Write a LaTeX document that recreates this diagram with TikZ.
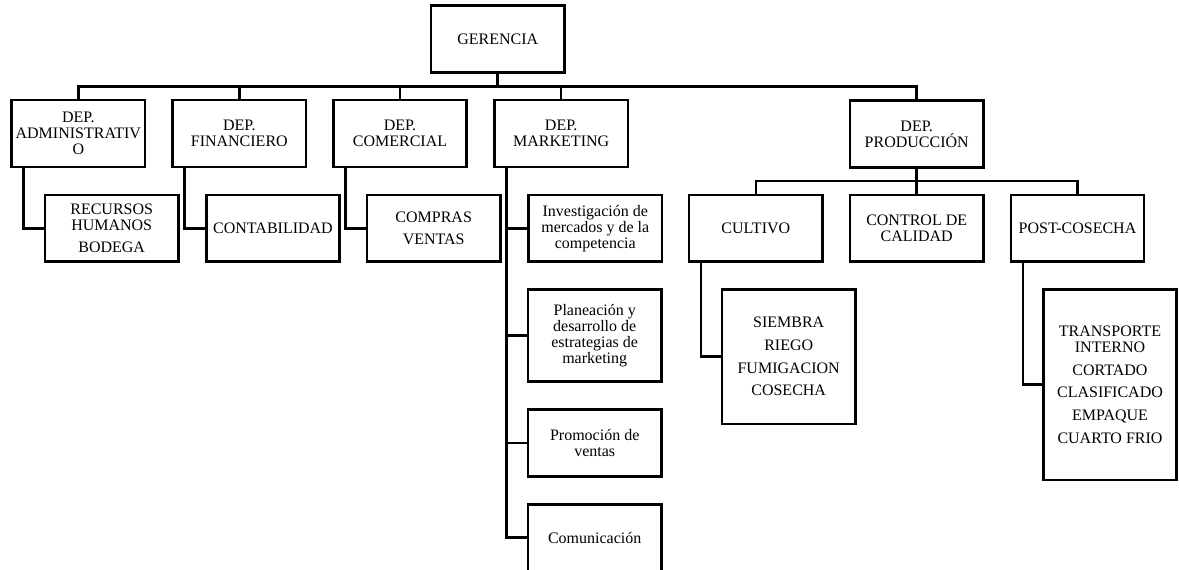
\documentclass[tikz,border=0pt]{standalone}
\usepackage{fontspec}
\setmainfont{Liberation Serif}
\usepackage{tikz}

\begin{document}
\begin{tikzpicture}[x=0.75pt,y=-0.75pt,line join=miter,line width=1.9pt,
	caja/.style={draw,line width=1.9pt,minimum width=100pt,minimum height=50pt,inner sep=0pt,align=center,font=\fontsize{12}{12}\selectfont}]
				\useasboundingbox (0,0) rectangle (1179,569);
				% nivel 1
				\node[caja] (ger) at (497.7,39) {GERENCIA};
				% departamentos
				\node[caja] (adm) at (78.3,133.5) {DEP.\\ADMINISTRATIV\\O};
				\node[caja] (fin) at (239.3,133.5) {DEP.\\FINANCIERO};
				\node[caja] (com) at (400,133.5) {DEP.\\COMERCIAL};
				\node[caja] (mkt) at (561.2,133.5) {DEP.\\MARKETING};
				\node[caja] (pro) at (916.7,134) {DEP.\\PRODUCCIÓN};
				% areas
				\node[caja] (rrhh) at (111.7,228.3) {RECURSOS\\HUMANOS\\[4.5pt]BODEGA};
				\node[caja] (cont) at (273,228.3) {CONTABILIDAD};
				\node[caja] (comp) at (433.7,228.3) {COMPRAS\\[5pt]VENTAS};
				\node[caja] (inv) at (595.3,228.3) {Investigación de\\mercados y de la\\competencia};
				\node[caja,minimum height=69pt] (plan) at (594.7,335.5) {Planeación y\\desarrollo de\\estrategias de\\marketing};
				\node[caja] (prom) at (594.7,443) {Promoción de\\ventas};
				\node[caja] (comu) at (594.7,537.7) {Comunicación};
				\node[caja] (cul) at (755.8,228.3) {CULTIVO};
				\node[caja] (cal) at (916.7,228.3) {CONTROL DE\\CALIDAD};
				\node[caja] (post) at (1077.5,228.3) {POST-COSECHA};
				\node[caja,minimum height=101pt] (sie) at (788.7,356.7) {SIEMBRA\\[5pt]RIEGO\\[5pt]FUMIGACION\\[5pt]COSECHA};
				\node[caja,minimum height=143pt] (tra) at (1110,384.7) {TRANSPORTE\\INTERNO\\[5pt]CORTADO\\[5pt]CLASIFICADO\\[5pt]EMPAQUE\\[5pt]CUARTO FRIO};
				% conectores
				\coordinate (bus) at (497.7,86.7);
				\coordinate (pbus) at (916.7,181);
				\draw (ger.south) -- (bus);
				\foreach \d in {adm,fin,com,mkt,pro}{\draw (bus) -| (\d.north);}
				\draw (pro.south) -- (pbus);
				\foreach \d in {cul,cal,post}{\draw (pbus) -| (\d.north);}
				\foreach \p/\h in {adm/rrhh,fin/cont,com/comp,mkt/inv,mkt/plan,mkt/prom,mkt/comu,cul/sie,post/tra}{\draw ([xshift=10pt]\p.south west) |- (\h.west);}
			\end{tikzpicture}
\end{document}
